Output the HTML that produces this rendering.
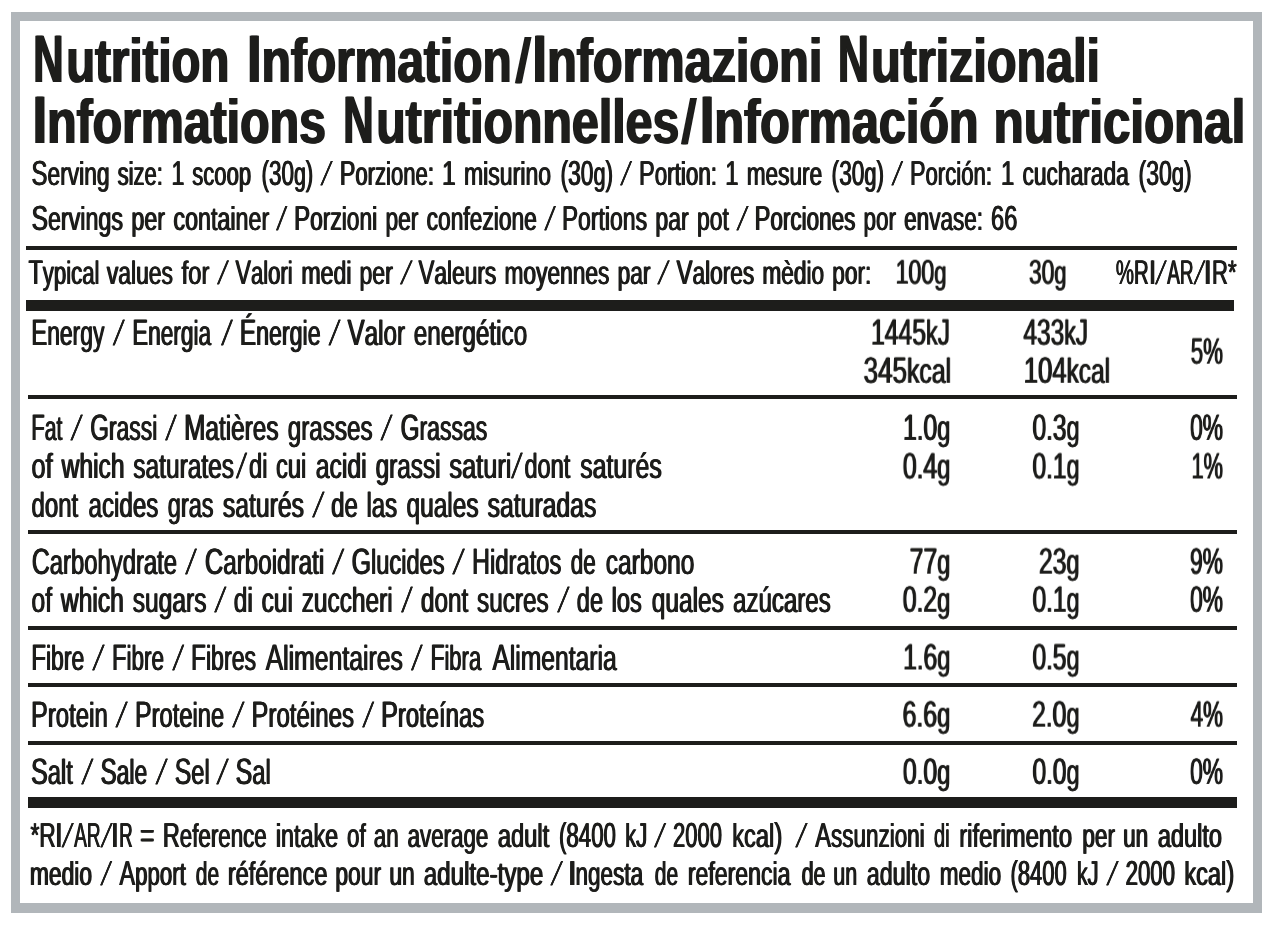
<!DOCTYPE html>
<html lang="en"><head><meta charset="utf-8"><title>Nutrition Information</title>
<style>
html,body{margin:0;padding:0;background:#fff;}
body{width:1272px;height:926px;position:relative;overflow:hidden;font-family:"Liberation Sans",Arial,Helvetica,sans-serif;color:#1d1d1b;text-rendering:geometricPrecision;}
#frame{position:absolute;left:11px;top:12px;width:1233px;height:882px;border-style:solid;border-color:#b1b6ba;border-width:9px 9px 10px 9px;background:#fff;}
.r{position:absolute;background:#1d1d1b;}
.ln{position:absolute;left:0;top:0;margin:0;padding:0;font-weight:400;line-height:1;white-space:pre;word-spacing:0.083em;will-change:transform;text-shadow:0.8px 0 0 #1d1d1b,-0.8px 0 0 #1d1d1b;}
.ln.b{font-weight:700;word-spacing:0;text-shadow:1.1px 0 0 #1d1d1b,-1.1px 0 0 #1d1d1b;}
.t{position:absolute;left:0;top:0;display:block;white-space:pre;line-height:1;transform-origin:0 0;}
.t b{font-weight:700;}
.t.s{text-shadow:0.25px 0 0 #1d1d1b,-0.25px 0 0 #1d1d1b;}
.b .t.s{text-shadow:1.1px 0 0 #1d1d1b,-1.1px 0 0 #1d1d1b;}
.t i{font-style:normal;line-height:0;font-size:1.05em;}
.b .t i{font-size:1.08em;}
</style></head>
<body>
<div id="frame"></div>
<div class="r" style="left:26px;top:246px;width:1211px;height:4px"></div>
<div class="r" style="left:26px;top:300px;width:1208px;height:11px"></div>
<div class="r" style="left:28px;top:395px;width:1208.5px;height:4px"></div>
<div class="r" style="left:28px;top:530px;width:1208.5px;height:4px"></div>
<div class="r" style="left:28px;top:626px;width:1208.5px;height:4px"></div>
<div class="r" style="left:28px;top:683px;width:1208.5px;height:4px"></div>
<div class="r" style="left:28px;top:741px;width:1208.5px;height:4px"></div>
<div class="r" style="left:28px;top:797px;width:1209px;height:11px"></div>
<h1 id="Lt1" class="ln b" aria-label="Nutrition Information/Informazioni Nutrizionali" style="font-size:62.29px;transform:translateY(30.51px)"><span id="t1_0" class="t" style="transform:translateX(33.24px) scaleX(0.6248)"><i>N</i></span><span id="t1_1" class="t" style="transform:translateX(66.26px) scaleX(0.7603)">utrition </span><span id="t1_2" class="t" style="transform:translateX(247.17px) scaleX(0.7694)"><i>I</i>nformation</span><span id="t1_3" class="t s" style="transform:translateX(519.09px) skewX(-4.16deg) scaleX(0.7200)">/</span><span id="t1_4" class="t" style="transform:translateX(532.43px) scaleX(0.7800)"><i>I</i>nformazioni </span><span id="t1_5" class="t" style="transform:translateX(837.99px) scaleX(0.6359)"><i>N</i></span><span id="t1_6" class="t" style="transform:translateX(871.11px) scaleX(0.7782)">utrizionali</span></h1>
<h1 id="Lt2" class="ln b" aria-label="Informations Nutritionnelles/Información nutricional" style="font-size:62.29px;transform:translateY(91.69px)"><span id="t2_0" class="t" style="transform:translateX(32.64px) scaleX(0.7747)"><i>I</i>nformations </span><span id="t2_1" class="t" style="transform:translateX(343.20px) scaleX(0.6257)"><i>N</i></span><span id="t2_2" class="t" style="transform:translateX(376.23px) scaleX(0.7752)">utritionnelles</span><span id="t2_3" class="t s" style="transform:translateX(684.54px) skewX(-3.52deg) scaleX(0.7200)">/</span><span id="t2_4" class="t" style="transform:translateX(699.81px) scaleX(0.7791)"><i>I</i>nformación </span><span id="t2_5" class="t" style="transform:translateX(993.70px) scaleX(0.7901)">nutricional</span></h1>
<p id="Ls1" class="ln" aria-label="Serving size: 1 scoop (30g) / Porzione: 1 misurino (30g) / Portion: 1 mesure (30g) / Porción: 1 cucharada (30g)" style="font-size:32.97px;transform:translateY(157.72px)"><span id="s1_0" class="t" style="transform:translateX(31.56px) scaleX(0.6909)"><i>S</i>erving </span><span id="s1_1" class="t" style="transform:translateX(117.64px) scaleX(0.6678)">size: </span><span id="s1_2" class="t" style="transform:translateX(171.46px) scaleX(0.6687)"><i>1</i> scoop </span><span id="s1_3" class="t" style="transform:translateX(261.47px) scaleX(0.6485)"><i>(30</i>g<i>)</i> </span><span id="s1_4" class="t s" style="transform:translateX(327.31px) skewX(-13.96deg) scaleX(0.6650)">/ </span><span id="s1_5" class="t" style="transform:translateX(339.86px) scaleX(0.6706)"><i>P</i>orzione: </span><span id="s1_6" class="t" style="transform:translateX(442.16px) scaleX(0.6995)"><i>1</i> misurino </span><span id="s1_7" class="t" style="transform:translateX(560.53px) scaleX(0.6576)"><i>(30</i>g<i>)</i> </span><span id="s1_8" class="t s" style="transform:translateX(626.62px) skewX(-13.15deg) scaleX(0.6650)">/ </span><span id="s1_9" class="t" style="transform:translateX(638.95px) scaleX(0.6809)"><i>P</i>ortion: </span><span id="s1_10" class="t" style="transform:translateX(725.32px) scaleX(0.6867)"><i>1</i> mesure </span><span id="s1_11" class="t" style="transform:translateX(831.60px) scaleX(0.6553)"><i>(30</i>g<i>)</i> </span><span id="s1_12" class="t s" style="transform:translateX(897.67px) skewX(-12.76deg) scaleX(0.6650)">/ </span><span id="s1_13" class="t" style="transform:translateX(909.94px) scaleX(0.6726)"><i>P</i>orción: </span><span id="s1_14" class="t" style="transform:translateX(1000.97px) scaleX(0.6906)"><i>1</i> cucharada </span><span id="s1_15" class="t" style="transform:translateX(1138.52px) scaleX(0.6649)"><i>(30</i>g<i>)</i></span></p>
<p id="Ls2" class="ln" aria-label="Servings per container / Porzioni per confezione / Portions par pot / Porciones por envase: 66" style="font-size:32.97px;transform:translateY(203.40px)"><span id="s2_0" class="t" style="transform:translateX(31.64px) scaleX(0.7061)"><i>S</i>ervings per container </span><span id="s2_1" class="t s" style="transform:translateX(281.84px) skewX(-11.65deg) scaleX(0.6650)">/ </span><span id="s2_2" class="t" style="transform:translateX(294.12px) scaleX(0.6913)"><i>P</i>orzioni per confezione </span><span id="s2_3" class="t s" style="transform:translateX(550.34px) skewX(-12.22deg) scaleX(0.6650)">/ </span><span id="s2_4" class="t" style="transform:translateX(561.94px) scaleX(0.6977)"><i>P</i>ortions par pot </span><span id="s2_5" class="t s" style="transform:translateX(743.13px) skewX(-13.70deg) scaleX(0.6650)">/ </span><span id="s2_6" class="t" style="transform:translateX(754.60px) scaleX(0.6824)"><i>P</i>orciones por envase: <i>66</i></span></p>
<p id="Lh1" class="ln" aria-label="Typical values for / Valori medi per / Valeurs moyennes par / Valores mèdio por:" style="font-size:32.56px;transform:translateY(256.64px)"><span id="h1_0" class="t" style="transform:translateX(28.62px) scaleX(0.6806)"><i>T</i>ypical </span><span id="h1_1" class="t" style="transform:translateX(106.83px) scaleX(0.7027)">values </span><span id="h1_2" class="t" style="transform:translateX(181.66px) scaleX(0.7298)">for </span><span id="h1_3" class="t s" style="transform:translateX(223.60px) skewX(-13.23deg) scaleX(0.6650)">/ </span><span id="h1_4" class="t" style="transform:translateX(235.49px) scaleX(0.6778)"><i>V</i>alori </span><span id="h1_5" class="t" style="transform:translateX(301.40px) scaleX(0.7099)">medi </span><span id="h1_6" class="t" style="transform:translateX(359.45px) scaleX(0.7096)">per </span><span id="h1_7" class="t s" style="transform:translateX(407.43px) skewX(-14.88deg) scaleX(0.6650)">/ </span><span id="h1_8" class="t" style="transform:translateX(418.46px) scaleX(0.6984)"><i>V</i>aleurs moyennes par </span><span id="h1_9" class="t s" style="transform:translateX(664.44px) skewX(-14.49deg) scaleX(0.6650)">/ </span><span id="h1_10" class="t" style="transform:translateX(676.59px) scaleX(0.6964)"><i>V</i>alores mèdio por:</span></p>
<p id="Lh2" class="ln" aria-label="100g" style="font-size:32.56px;transform:translateY(256.64px)"><span id="h2" class="t" style="transform:translateX(895.56px) scaleX(0.6777)"><i>100</i>g</span></p>
<p id="Lh3" class="ln" aria-label="30g" style="font-size:32.56px;transform:translateY(256.64px)"><span id="h3" class="t" style="transform:translateX(1029.00px) scaleX(0.6665)"><i>30</i>g</span></p>
<p id="Lh4" class="ln" aria-label="%RI/AR/IR*" style="font-size:32.56px;transform:translateY(256.79px)"><span id="h4_0" class="t" style="transform:translateX(1115.87px) scaleX(0.5969)"><i>%R</i></span><span id="h4_1" class="t" style="transform:translateX(1149.11px) scaleX(0.7199)"><i>I</i></span><span id="h4_2" class="t s" style="transform:translateX(1161.44px) skewX(-13.08deg) scaleX(0.6650)">/</span><span id="h4_3" class="t" style="transform:translateX(1167.28px) scaleX(0.5537)"><i>AR</i></span><span id="h4_4" class="t s" style="transform:translateX(1200.14px) skewX(-13.73deg) scaleX(0.6650)">/</span><span id="h4_5" class="t" style="transform:translateX(1203.66px) scaleX(0.8614)"><i>I</i></span><span id="h4_6" class="t" style="transform:translateX(1212.09px) scaleX(0.6458)"><i>R*</i></span></p>
<p id="Le0" class="ln" aria-label="Energy / Energia / Énergie / Valor energético" style="font-size:34.90px;transform:translateY(316.66px)"><span id="e0_0" class="t" style="transform:translateX(31.17px) scaleX(0.6549)"><i>E</i>nergy </span><span id="e0_1" class="t s" style="transform:translateX(118.89px) skewX(-12.19deg) scaleX(0.6650)">/ </span><span id="e0_2" class="t" style="transform:translateX(132.27px) scaleX(0.6492)"><i>E</i>nergia </span><span id="e0_3" class="t s" style="transform:translateX(226.90px) skewX(-11.45deg) scaleX(0.6650)">/ </span><span id="e0_4" class="t" style="transform:translateX(239.86px) scaleX(0.6646)"><i>É</i>nergie </span><span id="e0_5" class="t s" style="transform:translateX(334.67px) skewX(-12.15deg) scaleX(0.6650)">/ </span><span id="e0_6" class="t" style="transform:translateX(347.57px) scaleX(0.6958)"><i>V</i>alor energético</span></p>
<p id="Le1" class="ln" aria-label="1445kJ" style="font-size:34.90px;transform:translateY(316.66px)"><span id="e1" class="t" style="transform:translateX(871.06px) scaleX(0.6733)"><i>1445</i>k<i>J</i></span></p>
<p id="Le2" class="ln" aria-label="345kcal" style="font-size:34.90px;transform:translateY(354.77px)"><span id="e2" class="t" style="transform:translateX(863.56px) scaleX(0.7106)"><i>345</i>kcal</span></p>
<p id="Le3" class="ln" aria-label="433kJ" style="font-size:34.90px;transform:translateY(316.66px)"><span id="e3" class="t" style="transform:translateX(1023.40px) scaleX(0.6672)"><i>433</i>k<i>J</i></span></p>
<p id="Le4" class="ln" aria-label="104kcal" style="font-size:34.90px;transform:translateY(354.77px)"><span id="e4" class="t" style="transform:translateX(1023.74px) scaleX(0.7008)"><i>104</i>kcal</span></p>
<p id="Le5" class="ln" aria-label="5%" style="font-size:34.90px;transform:translateY(335.66px)"><span id="e5" class="t" style="transform:translateX(1190.77px) scaleX(0.6075)"><i>5%</i></span></p>
<p id="Lf0" class="ln" aria-label="Fat / Grassi / Matières grasses / Grassas" style="font-size:34.90px;transform:translateY(411.89px)"><span id="f0_0" class="t" style="transform:translateX(31.25px) scaleX(0.6047)"><i>F</i>at </span><span id="f0_1" class="t s" style="transform:translateX(76.85px) skewX(-12.65deg) scaleX(0.6650)">/ </span><span id="f0_2" class="t" style="transform:translateX(90.16px) scaleX(0.6571)"><i>G</i>rassi </span><span id="f0_3" class="t s" style="transform:translateX(170.79px) skewX(-11.09deg) scaleX(0.6650)">/ </span><span id="f0_4" class="t" style="transform:translateX(184.10px) scaleX(0.6982)"><i>M</i>atières </span><span id="f0_5" class="t" style="transform:translateX(287.73px) scaleX(0.6953)">grasses </span><span id="f0_6" class="t s" style="transform:translateX(386.66px) skewX(-12.25deg) scaleX(0.6650)">/ </span><span id="f0_7" class="t" style="transform:translateX(400.64px) scaleX(0.6602)"><i>G</i>rassas</span></p>
<p id="Lf1" class="ln" aria-label="of which saturates/di cui acidi grassi saturi/dont saturés" style="font-size:34.90px;transform:translateY(450.47px)"><span id="f1_0" class="t" style="transform:translateX(31.52px) scaleX(0.7255)">of </span><span id="f1_1" class="t" style="transform:translateX(61.64px) scaleX(0.7047)">which </span><span id="f1_2" class="t" style="transform:translateX(133.27px) scaleX(0.7021)">saturates</span><span id="f1_3" class="t s" style="transform:translateX(241.18px) skewX(-10.41deg) scaleX(0.6650)">/</span><span id="f1_4" class="t" style="transform:translateX(249.01px) scaleX(0.6793)">di cui </span><span id="f1_5" class="t" style="transform:translateX(315.70px) scaleX(0.7098)">acidi </span><span id="f1_6" class="t" style="transform:translateX(375.65px) scaleX(0.6971)">grassi </span><span id="f1_7" class="t" style="transform:translateX(449.43px) scaleX(0.7265)">saturi</span><span id="f1_8" class="t s" style="transform:translateX(516.71px) skewX(-10.96deg) scaleX(0.6650)">/</span><span id="f1_9" class="t" style="transform:translateX(524.47px) scaleX(0.6745)">dont </span><span id="f1_10" class="t" style="transform:translateX(580.26px) scaleX(0.7124)">saturés</span></p>
<p id="Lf2" class="ln" aria-label="dont acides gras saturés / de las quales saturadas" style="font-size:34.90px;transform:translateY(488.62px)"><span id="f2_0" class="t" style="transform:translateX(31.57px) scaleX(0.6871)">dont </span><span id="f2_1" class="t" style="transform:translateX(88.52px) scaleX(0.6924)">acides </span><span id="f2_2" class="t" style="transform:translateX(167.76px) scaleX(0.6748)">gras </span><span id="f2_3" class="t" style="transform:translateX(222.85px) scaleX(0.7092)">saturés </span><span id="f2_4" class="t s" style="transform:translateX(318.61px) skewX(-12.70deg) scaleX(0.6650)">/ </span><span id="f2_5" class="t" style="transform:translateX(331.09px) scaleX(0.6877)">de las </span><span id="f2_6" class="t" style="transform:translateX(406.56px) scaleX(0.7000)">quales </span><span id="f2_7" class="t" style="transform:translateX(487.61px) scaleX(0.7095)">saturadas</span></p>
<p id="Lf3" class="ln" aria-label="1.0g" style="font-size:34.90px;transform:translateY(411.89px)"><span id="f3" class="t" style="transform:translateX(903.05px) scaleX(0.6757)"><i>1</i>.<i>0</i>g</span></p>
<p id="Lf4" class="ln" aria-label="0.4g" style="font-size:34.90px;transform:translateY(450.47px)"><span id="f4" class="t" style="transform:translateX(902.85px) scaleX(0.6792)"><i>0</i>.<i>4</i>g</span></p>
<p id="Lf5" class="ln" aria-label="0.3g" style="font-size:34.90px;transform:translateY(411.89px)"><span id="f5" class="t" style="transform:translateX(1032.49px) scaleX(0.6731)"><i>0</i>.<i>3</i>g</span></p>
<p id="Lf6" class="ln" aria-label="0.1g" style="font-size:34.90px;transform:translateY(450.47px)"><span id="f6" class="t" style="transform:translateX(1032.48px) scaleX(0.6735)"><i>0</i>.<i>1</i>g</span></p>
<p id="Lf7" class="ln" aria-label="0%" style="font-size:34.90px;transform:translateY(411.89px)"><span id="f7" class="t" style="transform:translateX(1190.07px) scaleX(0.6215)"><i>0%</i></span></p>
<p id="Lf8" class="ln" aria-label="1%" style="font-size:34.90px;transform:translateY(450.47px)"><span id="f8" class="t" style="transform:translateX(1191.43px) scaleX(0.5951)"><i>1%</i></span></p>
<p id="Lc0" class="ln" aria-label="Carbohydrate / Carboidrati / Glucides / Hidratos de carbono" style="font-size:34.90px;transform:translateY(545.63px)"><span id="c0_0" class="t" style="transform:translateX(31.71px) scaleX(0.6834)"><i>C</i>arbohydrate </span><span id="c0_1" class="t s" style="transform:translateX(190.93px) skewX(-11.33deg) scaleX(0.6650)">/ </span><span id="c0_2" class="t" style="transform:translateX(204.91px) scaleX(0.6941)"><i>C</i>arboidrati </span><span id="c0_3" class="t s" style="transform:translateX(338.43px) skewX(-12.42deg) scaleX(0.6650)">/ </span><span id="c0_4" class="t" style="transform:translateX(351.63px) scaleX(0.6783)"><i>G</i>lucides </span><span id="c0_5" class="t s" style="transform:translateX(458.96px) skewX(-12.93deg) scaleX(0.6650)">/ </span><span id="c0_6" class="t" style="transform:translateX(472.04px) scaleX(0.6811)"><i>H</i>idratos </span><span id="c0_7" class="t" style="transform:translateX(570.82px) scaleX(0.6429)">de </span><span id="c0_8" class="t" style="transform:translateX(605.77px) scaleX(0.7023)">carbono</span></p>
<p id="Lc1" class="ln" aria-label="of which sugars / di cui zuccheri / dont sucres / de los quales azúcares" style="font-size:34.90px;transform:translateY(583.77px)"><span id="c1_0" class="t" style="transform:translateX(31.54px) scaleX(0.7050)">of which sugars </span><span id="c1_1" class="t s" style="transform:translateX(220.48px) skewX(-12.28deg) scaleX(0.6650)">/ </span><span id="c1_2" class="t" style="transform:translateX(233.79px) scaleX(0.7004)">di cui zuccheri </span><span id="c1_3" class="t s" style="transform:translateX(406.73px) skewX(-10.95deg) scaleX(0.6650)">/ </span><span id="c1_4" class="t" style="transform:translateX(420.91px) scaleX(0.6971)">dont sucres </span><span id="c1_5" class="t s" style="transform:translateX(563.65px) skewX(-12.74deg) scaleX(0.6650)">/ </span><span id="c1_6" class="t" style="transform:translateX(576.82px) scaleX(0.6771)">de los </span><span id="c1_7" class="t" style="transform:translateX(651.79px) scaleX(0.7009)">quales </span><span id="c1_8" class="t" style="transform:translateX(733.05px) scaleX(0.6900)">azúcares</span></p>
<p id="Lc3" class="ln" aria-label="77g" style="font-size:34.90px;transform:translateY(545.63px)"><span id="c3" class="t" style="transform:translateX(909.64px) scaleX(0.6750)"><i>77</i>g</span></p>
<p id="Lc4" class="ln" aria-label="0.2g" style="font-size:34.90px;transform:translateY(583.80px)"><span id="c4" class="t" style="transform:translateX(902.75px) scaleX(0.6805)"><i>0</i>.<i>2</i>g</span></p>
<p id="Lc5" class="ln" aria-label="23g" style="font-size:34.90px;transform:translateY(545.63px)"><span id="c5" class="t" style="transform:translateX(1038.94px) scaleX(0.6737)"><i>23</i>g</span></p>
<p id="Lc6" class="ln" aria-label="0.1g" style="font-size:34.90px;transform:translateY(583.77px)"><span id="c6" class="t" style="transform:translateX(1032.51px) scaleX(0.6729)"><i>0</i>.<i>1</i>g</span></p>
<p id="Lc7" class="ln" aria-label="9%" style="font-size:34.90px;transform:translateY(545.63px)"><span id="c7" class="t" style="transform:translateX(1189.95px) scaleX(0.6236)"><i>9%</i></span></p>
<p id="Lc8" class="ln" aria-label="0%" style="font-size:34.90px;transform:translateY(583.80px)"><span id="c8" class="t" style="transform:translateX(1190.06px) scaleX(0.6213)"><i>0%</i></span></p>
<p id="Lb0" class="ln" aria-label="Fibre / Fibre / Fibres Alimentaires / Fibra Alimentaria" style="font-size:34.90px;transform:translateY(641.51px)"><span id="b0_0" class="t" style="transform:translateX(31.17px) scaleX(0.6602)"><i>F</i>ibre </span><span id="b0_1" class="t s" style="transform:translateX(98.73px) skewX(-12.70deg) scaleX(0.6650)">/ </span><span id="b0_2" class="t" style="transform:translateX(112.00px) scaleX(0.6461)"><i>F</i>ibre </span><span id="b0_3" class="t s" style="transform:translateX(178.26px) skewX(-11.84deg) scaleX(0.6650)">/ </span><span id="b0_4" class="t" style="transform:translateX(191.08px) scaleX(0.6640)"><i>F</i>ibres </span><span id="b0_5" class="t" style="transform:translateX(265.73px) scaleX(0.7104)"><i>A</i>limentaires </span><span id="b0_6" class="t s" style="transform:translateX(416.77px) skewX(-11.26deg) scaleX(0.6650)">/ </span><span id="b0_7" class="t" style="transform:translateX(430.39px) scaleX(0.6296)"><i>F</i>ibra </span><span id="b0_8" class="t" style="transform:translateX(492.50px) scaleX(0.7068)"><i>A</i>limentaria</span></p>
<p id="Lb1" class="ln" aria-label="1.6g" style="font-size:34.90px;transform:translateY(641.47px)"><span id="b1" class="t" style="transform:translateX(903.14px) scaleX(0.6750)"><i>1</i>.<i>6</i>g</span></p>
<p id="Lb2" class="ln" aria-label="0.5g" style="font-size:34.90px;transform:translateY(641.47px)"><span id="b2" class="t" style="transform:translateX(1032.48px) scaleX(0.6735)"><i>0</i>.<i>5</i>g</span></p>
<p id="Lp0" class="ln" aria-label="Protein / Proteine / Protéines / Proteínas" style="font-size:34.90px;transform:translateY(698.66px)"><span id="p0_0" class="t" style="transform:translateX(31.06px) scaleX(0.6865)"><i>P</i>rotein </span><span id="p0_1" class="t s" style="transform:translateX(121.77px) skewX(-12.53deg) scaleX(0.6650)">/ </span><span id="p0_2" class="t" style="transform:translateX(135.04px) scaleX(0.6799)"><i>P</i>roteine </span><span id="p0_3" class="t s" style="transform:translateX(238.64px) skewX(-12.74deg) scaleX(0.6650)">/ </span><span id="p0_4" class="t" style="transform:translateX(251.56px) scaleX(0.6898)"><i>P</i>rotéines </span><span id="p0_5" class="t s" style="transform:translateX(368.25px) skewX(-11.81deg) scaleX(0.6650)">/ </span><span id="p0_6" class="t" style="transform:translateX(381.17px) scaleX(0.6841)"><i>P</i>roteínas</span></p>
<p id="Lp1" class="ln" aria-label="6.6g" style="font-size:34.90px;transform:translateY(698.66px)"><span id="p1" class="t" style="transform:translateX(902.55px) scaleX(0.6834)"><i>6</i>.<i>6</i>g</span></p>
<p id="Lp2" class="ln" aria-label="2.0g" style="font-size:34.90px;transform:translateY(698.66px)"><span id="p2" class="t" style="transform:translateX(1032.04px) scaleX(0.6804)"><i>2</i>.<i>0</i>g</span></p>
<p id="Lp3" class="ln" aria-label="4%" style="font-size:34.90px;transform:translateY(698.66px)"><span id="p3" class="t" style="transform:translateX(1190.54px) scaleX(0.6119)"><i>4%</i></span></p>
<p id="La0" class="ln" aria-label="Salt / Sale / Sel / Sal" style="font-size:34.90px;transform:translateY(755.89px)"><span id="a0_0" class="t" style="transform:translateX(31.12px) scaleX(0.6794)"><i>S</i>alt </span><span id="a0_1" class="t s" style="transform:translateX(87.54px) skewX(-12.34deg) scaleX(0.6650)">/ </span><span id="a0_2" class="t" style="transform:translateX(100.60px) scaleX(0.6566)"><i>S</i>ale </span><span id="a0_3" class="t s" style="transform:translateX(161.86px) skewX(-12.58deg) scaleX(0.6650)">/ </span><span id="a0_4" class="t" style="transform:translateX(174.67px) scaleX(0.6789)"><i>S</i>el </span><span id="a0_5" class="t s" style="transform:translateX(222.84px) skewX(-12.80deg) scaleX(0.6650)">/ </span><span id="a0_6" class="t" style="transform:translateX(235.64px) scaleX(0.6798)"><i>S</i>al</span></p>
<p id="La1" class="ln" aria-label="0.0g" style="font-size:34.90px;transform:translateY(755.89px)"><span id="a1" class="t" style="transform:translateX(902.88px) scaleX(0.6782)"><i>0</i>.<i>0</i>g</span></p>
<p id="La2" class="ln" aria-label="0.0g" style="font-size:34.90px;transform:translateY(755.89px)"><span id="a2" class="t" style="transform:translateX(1032.49px) scaleX(0.6731)"><i>0</i>.<i>0</i>g</span></p>
<p id="La3" class="ln" aria-label="0%" style="font-size:34.90px;transform:translateY(755.89px)"><span id="a3" class="t" style="transform:translateX(1190.07px) scaleX(0.6215)"><i>0%</i></span></p>
<p id="Ln1" class="ln" aria-label="*RI/AR/IR = Reference intake of an average adult (8400 kJ / 2000 kcal) / Assunzioni di riferimento per un adulto" style="font-size:32.97px;transform:translateY(819.64px)"><span id="n1_0" class="t" style="transform:translateX(30.45px) scaleX(0.6590)"><i>*R</i></span><span id="n1_1" class="t" style="transform:translateX(55.19px) scaleX(0.7703)"><i>I</i></span><span id="n1_2" class="t s" style="transform:translateX(68.35px) skewX(-13.68deg) scaleX(0.6650)">/</span><span id="n1_3" class="t" style="transform:translateX(74.15px) scaleX(0.5509)"><i>AR</i></span><span id="n1_4" class="t s" style="transform:translateX(107.31px) skewX(-13.98deg) scaleX(0.6650)">/</span><span id="n1_5" class="t" style="transform:translateX(111.17px) scaleX(0.7829)"><i>I</i></span><span id="n1_6" class="t" style="transform:translateX(119.24px) scaleX(0.5368)"><i>R</i> </span><span id="n1_7" class="t" style="transform:translateX(140.06px) scaleX(0.7081)"><i>=</i> </span><span id="n1_8" class="t" style="transform:translateX(162.85px) scaleX(0.6775)"><i>R</i>eference </span><span id="n1_9" class="t" style="transform:translateX(275.85px) scaleX(0.7082)">intake </span><span id="n1_10" class="t" style="transform:translateX(347.01px) scaleX(0.6785)">of an </span><span id="n1_11" class="t" style="transform:translateX(407.66px) scaleX(0.6763)">average </span><span id="n1_12" class="t" style="transform:translateX(497.80px) scaleX(0.7194)">adult </span><span id="n1_13" class="t" style="transform:translateX(558.94px) scaleX(0.6443)"><i>(8400</i> </span><span id="n1_14" class="t" style="transform:translateX(625.23px) scaleX(0.6592)">k<i>J</i> </span><span id="n1_15" class="t s" style="transform:translateX(660.71px) skewX(-13.38deg) scaleX(0.6650)">/ </span><span id="n1_16" class="t" style="transform:translateX(672.97px) scaleX(0.6356)"><i>2000</i> </span><span id="n1_17" class="t" style="transform:translateX(732.23px) scaleX(0.7167)">kcal<i>)</i>  </span><span id="n1_18" class="t s" style="transform:translateX(802.16px) skewX(-13.87deg) scaleX(0.6650)">/ </span><span id="n1_19" class="t" style="transform:translateX(815.26px) scaleX(0.6814)"><i>A</i>ssunzioni </span><span id="n1_20" class="t" style="transform:translateX(933.88px) scaleX(0.6137)">di </span><span id="n1_21" class="t" style="transform:translateX(959.23px) scaleX(0.7247)">riferimento </span><span id="n1_22" class="t" style="transform:translateX(1082.35px) scaleX(0.6845)">per un </span><span id="n1_23" class="t" style="transform:translateX(1157.82px) scaleX(0.7137)">adulto</span></p>
<p id="Ln2" class="ln" aria-label="medio / Apport de référence pour un adulte-type / Ingesta de referencia de un adulto medio (8400 kJ / 2000 kcal)" style="font-size:32.97px;transform:translateY(857.57px)"><span id="n2_0" class="t" style="transform:translateX(29.86px) scaleX(0.6925)">medio </span><span id="n2_1" class="t s" style="transform:translateX(106.72px) skewX(-13.20deg) scaleX(0.6650)">/ </span><span id="n2_2" class="t" style="transform:translateX(119.53px) scaleX(0.6749)"><i>A</i>pport </span><span id="n2_3" class="t" style="transform:translateX(195.85px) scaleX(0.6353)">de </span><span id="n2_4" class="t" style="transform:translateX(227.81px) scaleX(0.7152)">référence </span><span id="n2_5" class="t" style="transform:translateX(335.33px) scaleX(0.6936)">pour un </span><span id="n2_6" class="t" style="transform:translateX(423.75px) scaleX(0.7327)">adulte-type </span><span id="n2_7" class="t s" style="transform:translateX(557.69px) skewX(-14.70deg) scaleX(0.6650)">/ </span><span id="n2_8" class="t" style="transform:translateX(568.95px) scaleX(0.6831)"><b><i>I</i></b>ngesta </span><span id="n2_9" class="t" style="transform:translateX(654.86px) scaleX(0.6356)">de </span><span id="n2_10" class="t" style="transform:translateX(687.84px) scaleX(0.6999)">referencia </span><span id="n2_11" class="t" style="transform:translateX(801.63px) scaleX(0.6520)">de un </span><span id="n2_12" class="t" style="transform:translateX(866.78px) scaleX(0.7059)">adulto </span><span id="n2_13" class="t" style="transform:translateX(939.77px) scaleX(0.6835)">medio </span><span id="n2_14" class="t" style="transform:translateX(1010.56px) scaleX(0.6349)"><i>(8400</i> </span><span id="n2_15" class="t" style="transform:translateX(1076.94px) scaleX(0.6467)">k<i>J</i> </span><span id="n2_16" class="t s" style="transform:translateX(1113.25px) skewX(-14.11deg) scaleX(0.6650)">/ </span><span id="n2_17" class="t" style="transform:translateX(1125.62px) scaleX(0.6409)"><i>2000</i> </span><span id="n2_18" class="t" style="transform:translateX(1184.40px) scaleX(0.7132)">kcal<i>)</i></span></p>
</body></html>
